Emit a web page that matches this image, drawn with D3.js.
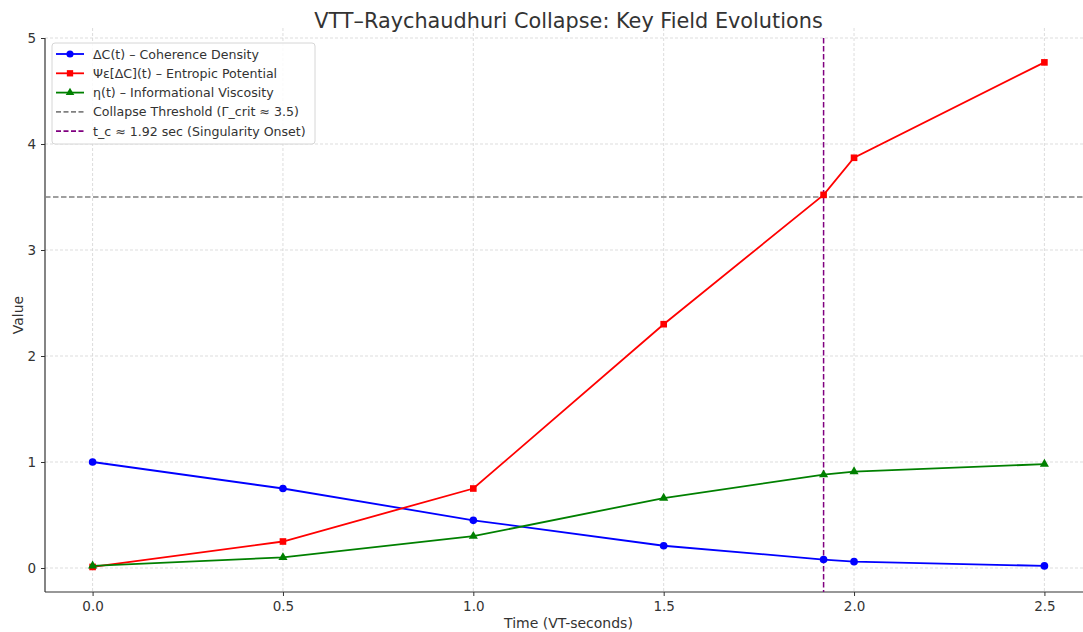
<!DOCTYPE html>
<html><head><meta charset="utf-8">
<script src="https://cdn.jsdelivr.net/npm/d3@7"></script>
<style>body{margin:0;background:#fff}svg{display:block;font-family:"DejaVu Sans",sans-serif}</style>
</head><body>
<svg id="c" width="1083" height="632"></svg>
<script>
const times = [0, 0.5, 1.0, 1.5, 1.92, 2.0, 2.5];
const coherence = [1.0, 0.75, 0.45, 0.21, 0.08, 0.06, 0.02];
const entropic = [0.01, 0.25, 0.75, 2.30, 3.52, 3.87, 4.77];
const viscosity = [0.02, 0.10, 0.30, 0.66, 0.88, 0.91, 0.98];
const xTicks = [0, 0.5, 1.0, 1.5, 2.0, 2.5];
const yTicks = [0, 1, 2, 3, 4, 5];
const threshold = 3.5;
const tCrit = 1.92;
const labels = ["ΔC(t) – Coherence Density", "Ψε[ΔC](t) – Entropic Potential", "η(t) – Informational Viscosity",
  "Collapse Threshold (Γ_crit ≈ 3.5)", "t_c ≈ 1.92 sec (Singularity Onset)"];

const svg = d3.select("#c");
const L = 45, R = 1092, T = 38, B = 592;
const x = d3.scaleLinear().domain([-0.125, 2.625]).range([L, R]);
const y = d3.scaleLinear().domain([-0.2264, 5]).range([B, T]);

// grid
const g = svg.append("g");
g.selectAll(".gx").data(xTicks).join("line").attr("x1", d => x(d)).attr("x2", d => x(d))
  .attr("y1", T - 10).attr("y2", B).attr("stroke", "#d4d4d4").attr("stroke-width", 0.8).attr("stroke-dasharray", "3,2");
g.selectAll(".gy").data(yTicks).join("line").attr("y1", d => y(d)).attr("y2", d => y(d))
  .attr("x1", L).attr("x2", R).attr("stroke", "#d4d4d4").attr("stroke-width", 0.8).attr("stroke-dasharray", "3,2");

// axes
const xa = svg.append("g").attr("transform", `translate(0,${B})`)
  .call(d3.axisBottom(x).tickValues(xTicks).tickFormat(d3.format(".1f")).tickSize(4).tickPadding(5).tickSizeOuter(0));
const ya = svg.append("g").attr("transform", `translate(${L},0)`)
  .call(d3.axisLeft(y).tickValues(yTicks).tickFormat(d3.format("d")).tickSize(4).tickPadding(5).tickSizeOuter(0));
[xa, ya].forEach(a => {
  a.select(".domain").attr("stroke", "#333").attr("stroke-width", 1.2);
  a.selectAll(".tick line").attr("stroke", "#333");
  a.selectAll(".tick text").attr("fill", "#333").style("font-size", "13.5px").style("font-family", "DejaVu Sans");
});
ya.select(".domain").attr("d", `M0,${B}V${T}`);
xa.select(".domain").attr("d", `M${L},0H${R}`);

// reference lines
svg.append("line").attr("x1", L).attr("x2", R).attr("y1", y(threshold)).attr("y2", y(threshold))
  .attr("stroke", "gray").attr("stroke-width", 1.5).attr("stroke-dasharray", "5.5,2.5");
svg.append("line").attr("x1", x(tCrit)).attr("x2", x(tCrit)).attr("y1", T).attr("y2", B)
  .attr("stroke", "purple").attr("stroke-width", 1.5).attr("stroke-dasharray", "5.5,2.5");

const series = [
  {vals: coherence, color: "#0000ff", sym: d3.symbolCircle, size: 46},
  {vals: entropic, color: "#ff0000", sym: d3.symbolSquare, size: 44},
  {vals: viscosity, color: "#008000", sym: d3.symbolTriangle, size: 36}
];
const line = d3.line().x((d, i) => x(times[i])).y(d => y(d));
series.forEach(s => {
  svg.append("path").attr("d", line(s.vals)).attr("fill", "none").attr("stroke", s.color).attr("stroke-width", 1.8);
  svg.selectAll(null).data(s.vals).join("path")
    .attr("transform", (d, i) => `translate(${x(times[i])},${y(d)})`)
    .attr("d", d3.symbol(s.sym, s.size)).attr("fill", s.color);
});

// title and labels
svg.append("text").attr("x", (L + R) / 2).attr("y", 28).attr("text-anchor", "middle")
  .style("font-size", "20.8px").attr("fill", "#333").text("VTT–Raychaudhuri Collapse: Key Field Evolutions");
svg.append("text").attr("x", (L + R) / 2).attr("y", 628).attr("text-anchor", "middle")
  .style("font-size", "14px").attr("fill", "#333").text("Time (VT-seconds)");
svg.append("text").attr("transform", `translate(23,${(T + B) / 2}) rotate(-90)`).attr("text-anchor", "middle")
  .style("font-size", "14px").attr("fill", "#333").text("Value");

// legend
const lg = svg.append("g");
lg.append("rect").attr("x", 52).attr("y", 43).attr("width", 263).attr("height", 101).attr("rx", 3)
  .attr("fill", "#fff").attr("fill-opacity", 0.85).attr("stroke", "#d6d6d6");
const legItems = [
  {color: "#0000ff", sym: d3.symbolCircle, size: 40, dash: null},
  {color: "#ff0000", sym: d3.symbolSquare, size: 40, dash: null},
  {color: "#008000", sym: d3.symbolTriangle, size: 32, dash: null},
  {color: "gray", sym: null, dash: "5,2.5"},
  {color: "purple", sym: null, dash: "5,2.5"}
];
legItems.forEach((it, i) => {
  const yy = 54 + i * 19.3;
  lg.append("line").attr("x1", 56).attr("x2", 84).attr("y1", yy).attr("y2", yy).attr("stroke", it.color)
    .attr("stroke-width", 1.8).attr("stroke-dasharray", it.dash);
  if (it.sym) lg.append("path").attr("transform", `translate(70,${yy})`).attr("d", d3.symbol(it.sym, it.size)).attr("fill", it.color);
  lg.append("text").attr("x", 93).attr("y", yy + 4.5).style("font-size", "12.6px").attr("fill", "#333").text(labels[i]);
});
</script>
</body></html>
